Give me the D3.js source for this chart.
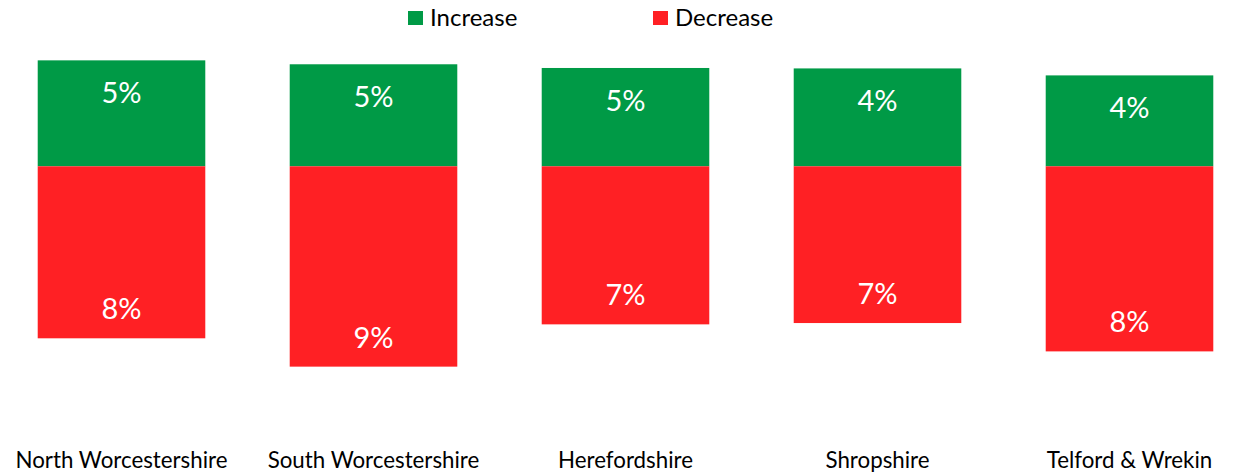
<!DOCTYPE html>
<html>
<head>
<meta charset="utf-8">
<script src="https://cdn.jsdelivr.net/npm/d3@7"></script>
<style>
  body { margin: 0; background: #fff; }
  text { font-family: Lato, "Open Sans", sans-serif; }
</style>
</head>
<body>
<div id="chart"></div>
<script>
const areas = ["North Worcestershire", "South Worcestershire", "Herefordshire", "Shropshire", "Telford & Wrekin"];
const increase = [0.0486, 0.0468, 0.0451, 0.0449, 0.0417];
const decrease = [0.0789, 0.0919, 0.0725, 0.0719, 0.0849];
const seriesNames = ["Increase", "Decrease"];
const seriesColors = ["#009A46", "#FF2024"];

const width = 1235, height = 474;

const svg = d3.select("#chart").append("svg")
  .attr("width", width).attr("height", height);

const x = d3.scaleBand()
  .domain(areas)
  .range([-4.5, 1255.5])
  .paddingInner(0.335)
  .paddingOuter(0.1675);

const y = d3.scaleLinear()
  .domain([-0.10, 0.05])
  .range([384.3, 57.3]);

const fmt = d3.format(".0%");

// increase bars (above the line)
svg.append("g")
  .selectAll("rect")
  .data(areas)
  .join("rect")
  .attr("x", d => x(d))
  .attr("y", (d, i) => y(increase[i]))
  .attr("width", x.bandwidth())
  .attr("height", (d, i) => y(0) - y(increase[i]))
  .attr("fill", seriesColors[0]);

// decrease bars (below the line)
svg.append("g")
  .selectAll("rect")
  .data(areas)
  .join("rect")
  .attr("x", d => x(d))
  .attr("y", y(0))
  .attr("width", x.bandwidth())
  .attr("height", (d, i) => y(-decrease[i]) - y(0))
  .attr("fill", seriesColors[1]);

// value labels
svg.append("g")
  .selectAll("text")
  .data(areas)
  .join("text")
  .attr("x", d => x(d) + x.bandwidth() / 2)
  .attr("y", (d, i) => y(increase[i]) + 43)
  .attr("text-anchor", "middle")
  .attr("fill", "#fff")
  .attr("font-size", 29)
  .text((d, i) => fmt(increase[i]));

svg.append("g")
  .selectAll("text")
  .data(areas)
  .join("text")
  .attr("x", d => x(d) + x.bandwidth() / 2)
  .attr("y", (d, i) => y(-decrease[i]) - 19)
  .attr("text-anchor", "middle")
  .attr("fill", "#fff")
  .attr("font-size", 29)
  .text((d, i) => fmt(decrease[i]));

// category labels
svg.append("g")
  .attr("transform", "translate(0,468)")
  .call(d3.axisBottom(x).tickSize(0).tickPadding(0))
  .call(g => g.select(".domain").remove())
  .selectAll("text")
  .attr("dy", 0)
  .attr("font-size", 22.3)
  .attr("fill", "#000");

// legend
const legendX = [408, 653];
const legend = svg.append("g");
seriesNames.forEach((name, i) => {
  legend.append("rect")
    .attr("x", legendX[i]).attr("y", 11)
    .attr("width", 15).attr("height", 14)
    .attr("fill", seriesColors[i]);
  legend.append("text")
    .attr("x", legendX[i] + 22).attr("y", 26)
    .attr("font-size", 24)
    .attr("fill", "#000")
    .text(name);
});
</script>
</body>
</html>
